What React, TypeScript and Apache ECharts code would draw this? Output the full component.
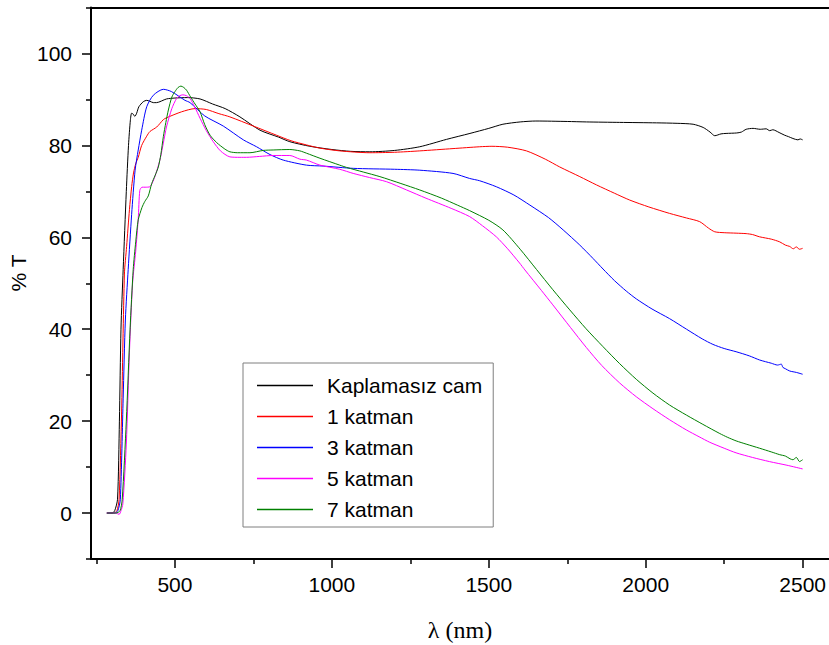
import React, { useEffect, useRef } from "react";
import * as echarts from "echarts";

// Transmittance spectra, [wavelength (nm), %T]
const kaplamasizCam: [number, number][] = [
  [283, 0], [300, 0], [308, 0.5], [317, 3], [323, 20], [328, 40], [335, 53], [345, 70],
  [352, 80], [358, 85.5], [362, 87], [367, 86.8], [372, 86.3], [378, 87], [385, 88.4],
  [399, 89.5], [410, 89.8], [420, 89.6], [431, 89.3], [441, 89.3], [473, 90.1], [500, 90.3],
  [540, 90.4], [580, 90.1], [620, 89], [660, 88], [707, 86.2], [771, 83.3], [830, 81.8],
  [866, 80.8], [930, 79.8], [1000, 79.1], [1060, 78.7], [1121, 78.6], [1200, 78.9],
  [1280, 79.7], [1365, 81.3], [1440, 82.6], [1500, 83.7], [1545, 84.6], [1600, 85.1],
  [1650, 85.3], [1750, 85.2], [1811, 85.1], [1917, 85], [2034, 84.9], [2100, 84.8],
  [2151, 84.6], [2183, 83.9], [2205, 82.9], [2220, 82.1], [2240, 82.5], [2256, 82.6],
  [2290, 82.7], [2305, 82.9], [2320, 83.5], [2342, 83.7], [2365, 83.5], [2384, 83.6],
  [2395, 83.2], [2405, 83.4], [2425, 82.8], [2443, 82.2], [2455, 81.9], [2469, 81.5],
  [2485, 81.2], [2492, 81.4], [2500, 81.2],
];

const katman1: [number, number][] = [
  [283, 0], [305, 0], [315, 0.5], [322, 3], [330, 22], [339, 52], [346, 58], [355, 66],
  [362, 71], [368, 74], [375, 76], [383, 77.4], [394, 80], [410, 82], [420, 83], [442, 84],
  [463, 85.6], [473, 86], [521, 87.3], [564, 88], [600, 87.8], [640, 86.9], [675, 86.2],
  [750, 84.2], [824, 82.2], [870, 81], [919, 80.1], [962, 79.4], [1025, 78.8], [1121, 78.4],
  [1200, 78.5], [1280, 78.8], [1386, 79.3], [1471, 79.7], [1510, 79.8], [1560, 79.6],
  [1620, 78.8], [1680, 77], [1726, 75.3], [1790, 73.2], [1843, 71.4], [1900, 69.6],
  [1949, 68.1], [2010, 66.6], [2076, 65.2], [2130, 64.2], [2172, 63.4], [2200, 62],
  [2220, 61.2], [2250, 61], [2288, 60.9], [2320, 60.8], [2340, 60.6], [2363, 60.1],
  [2400, 59.6], [2427, 59], [2445, 58.3], [2459, 58], [2470, 57.5], [2480, 57.9],
  [2490, 57.4], [2500, 57.6],
];

const katman3: [number, number][] = [
  [283, 0], [308, 0], [318, 0.5], [326, 3], [335, 25], [342, 42], [351, 53], [362, 65],
  [373, 74.6], [383, 79], [394, 83.3], [410, 88.4], [431, 90.9], [463, 92.2], [489, 91.7],
  [532, 89.8], [548, 89.3], [595, 86.4], [654, 84.2], [718, 81.2], [760, 79.7], [803, 78],
  [845, 76.8], [919, 75.7], [972, 75.5], [1068, 75], [1200, 74.8], [1280, 74.6],
  [1386, 73.9], [1439, 72.8], [1471, 72.3], [1524, 71], [1580, 69.2], [1631, 67],
  [1690, 64.3], [1737, 61.6], [1790, 58.3], [1832, 55.4], [1864, 53.1], [1900, 50.6],
  [1938, 48.3], [1970, 46.6], [2020, 44.4], [2076, 42.3], [2130, 40], [2180, 37.9],
  [2214, 36.7], [2250, 35.8], [2288, 35.1], [2330, 34.2], [2363, 33.3], [2400, 32.6],
  [2420, 32.2], [2432, 32.4], [2437, 31.7], [2445, 31.4], [2459, 30.9], [2480, 30.6],
  [2500, 30.2],
];

const katman5: [number, number][] = [
  [283, 0], [312, 0], [322, -0.3], [328, 0.5], [334, 2], [345, 15], [355, 35], [365, 50],
  [375, 57], [383, 64], [388, 70.2], [395, 70.9], [405, 70.9], [420, 71], [435, 73],
  [452, 76.8], [463, 80.5], [473, 84], [490, 88], [505, 90.2], [515, 90.8], [525, 91],
  [537, 90.8], [548, 90.2], [562, 88.5], [580, 85.9], [600, 83.2], [622, 80.8], [645, 78.8],
  [675, 77.5], [707, 77.4], [728, 77.4], [770, 77.6], [813, 77.8], [866, 77.8], [898, 77],
  [919, 76.8], [962, 75.7], [1025, 74.8], [1068, 73.9], [1120, 73], [1174, 72.1],
  [1238, 70.3], [1300, 68.5], [1380, 66.3], [1439, 64.5], [1480, 62.5], [1524, 60.1],
  [1560, 57.5], [1598, 54.4], [1615, 52.9], [1668, 48.4], [1704, 45.3], [1760, 40.4],
  [1811, 36], [1860, 32.1], [1917, 28.3], [1970, 25.3], [2023, 22.7], [2076, 20.3],
  [2129, 18.1], [2170, 16.6], [2204, 15.4], [2250, 14.1], [2288, 13.1], [2340, 12.1],
  [2394, 11.2], [2450, 10.4], [2500, 9.6],
];

const katman7: [number, number][] = [
  [283, 0], [312, 0], [325, 0.5], [332, 3], [345, 20], [357, 40], [367, 53], [375, 59],
  [383, 63.8], [395, 66.5], [404, 67.8], [415, 69], [426, 71.7], [437, 73.5], [447, 75.3],
  [455, 78], [463, 81.9], [471, 85], [479, 87.7], [490, 90.5], [500, 91.7], [510, 92.6],
  [519, 92.9], [528, 92.6], [537, 92], [550, 90.5], [564, 89], [580, 87.3], [595, 84.5],
  [612, 82.2], [633, 80.6], [659, 79.2], [675, 78.6], [700, 78.4], [739, 78.4], [781, 78.9],
  [813, 79], [866, 79.1], [898, 78.8], [919, 78.3], [962, 77.2], [1025, 75.7], [1047, 75.2],
  [1100, 74.2], [1153, 73.2], [1220, 71.7], [1280, 70.3], [1350, 68.5], [1400, 67],
  [1439, 65.8], [1500, 63.7], [1545, 61.6], [1600, 57.4], [1652, 53], [1704, 48.6],
  [1758, 44.2], [1810, 40.1], [1864, 36.2], [1917, 32.5], [1970, 29.1], [2023, 26.1],
  [2076, 23.5], [2130, 21.3], [2182, 19.3], [2236, 17.3], [2260, 16.5], [2288, 15.7],
  [2320, 15], [2363, 14.1], [2400, 13.3], [2427, 12.7], [2445, 12.4], [2460, 11.8],
  [2469, 11.6], [2480, 12.1], [2490, 11.2], [2500, 11.6],
];

const seriesNames = ["Kaplamasız cam", "1 katman", "3 katman", "5 katman", "7 katman"];
const seriesColors = ["#000000", "#ff0000", "#0000ff", "#ff00ff", "#008000"];
const seriesData = [kaplamasizCam, katman1, katman3, katman5, katman7];

const xMajorTicks = [500, 1000, 1500, 2000, 2500];
const xMinorTicks = [250, 750, 1250, 1750, 2250];
const yMajorTicks = [0, 20, 40, 60, 80, 100];
const yMinorTicks = [-10, 10, 30, 50, 70, 90, 110];

const X_MIN = 232.5;
const X_MAX = 2582.8;
const Y_MIN = -10;
const Y_MAX = 110;

const SANS = "'Liberation Sans', Arial, sans-serif";
const SERIF = "'Liberation Serif', 'Times New Roman', serif";
const FONT_SIZE = 21;

export default function App() {
  const ref = useRef<HTMLDivElement>(null);

  useEffect(() => {
    if (!ref.current) return;
    const chart = echarts.init(ref.current, undefined, { renderer: "svg" });

    const axisLine = { show: true, onZero: false, lineStyle: { color: "#000", width: 2 } };
    const noLine = { show: false, onZero: false };
    const plain = (v: number) => String(v);

    chart.setOption({
      animation: false,
      backgroundColor: "#ffffff",
      grid: { left: 91, top: 7.5, width: 738, height: 551.5, containLabel: false },
      xAxis: [
        {
          type: "value", min: X_MIN, max: X_MAX, position: "bottom",
          axisLine,
          splitLine: { show: false },
          axisTick: { customValues: xMajorTicks, length: 9, lineStyle: { color: "#000", width: 1.5 } },
          axisLabel: {
            customValues: xMajorTicks, formatter: plain,
            fontSize: FONT_SIZE, color: "#000", fontFamily: SANS, margin: 15,
          },
        },
        {
          type: "value", min: X_MIN, max: X_MAX, position: "bottom",
          axisLine: noLine,
          splitLine: { show: false },
          axisTick: { customValues: xMinorTicks, length: 5, lineStyle: { color: "#000", width: 1.5 } },
          axisLabel: { show: false },
        },
        {
          type: "value", min: X_MIN, max: X_MAX, position: "top",
          axisLine,
          splitLine: { show: false },
          axisTick: { show: false },
          axisLabel: { show: false },
        },
      ],
      yAxis: [
        {
          type: "value", min: Y_MIN, max: Y_MAX, position: "left",
          axisLine,
          splitLine: { show: false },
          axisTick: { customValues: yMajorTicks, length: 9, lineStyle: { color: "#000", width: 1.5 } },
          axisLabel: {
            customValues: yMajorTicks, formatter: plain,
            fontSize: FONT_SIZE, color: "#000", fontFamily: SANS, margin: 19,
          },
        },
        {
          type: "value", min: Y_MIN, max: Y_MAX, position: "left",
          axisLine: noLine,
          splitLine: { show: false },
          axisTick: { customValues: yMinorTicks, length: 5, lineStyle: { color: "#000", width: 1.5 } },
          axisLabel: { show: false },
        },
      ],
      legend: {
        orient: "vertical",
        left: 243,
        top: 363,
        padding: [12, 11, 7, 14],
        itemWidth: 56,
        itemHeight: 1.6,
        itemGap: 10,
        icon: "rect",
        borderColor: "#7f7f7f",
        borderWidth: 1,
        backgroundColor: "#ffffff",
        itemStyle: { borderWidth: 0 },
        textStyle: { fontSize: FONT_SIZE, color: "#000", fontFamily: SANS, padding: [0, 0, 0, 9] },
        data: seriesNames.map((name, i) => ({ name, itemStyle: { color: seriesColors[i] } })),
      },
      series: seriesData.map((d, i) => ({
        type: "line",
        name: seriesNames[i],
        data: d,
        xAxisIndex: 0,
        yAxisIndex: 0,
        showSymbol: false,
        symbol: "none",
        smooth: 0.25,
        color: seriesColors[i],
        itemStyle: { color: seriesColors[i] },
        lineStyle: { color: seriesColors[i], width: 1 },
        z: 2 + i,
      })),
      graphic: [
        {
          type: "text",
          x: 18,
          y: 273,
          rotation: Math.PI / 2,
          style: {
            text: "% T",
            fontSize: FONT_SIZE,
            fontFamily: SANS,
            fill: "#000",
            align: "center",
            verticalAlign: "middle",
          },
        },
        {
          type: "text",
          x: 460,
          y: 630,
          style: {
            text: "λ (nm)",
            fontSize: 24,
            fontFamily: SERIF,
            fill: "#000",
            align: "center",
            verticalAlign: "middle",
          },
        },
      ],
    });

    return () => chart.dispose();
  }, []);

  return (
    <div
      ref={ref}
      style={{ position: "fixed", left: 0, top: 0, width: 829, height: 645, background: "#fff" }}
    />
  );
}
